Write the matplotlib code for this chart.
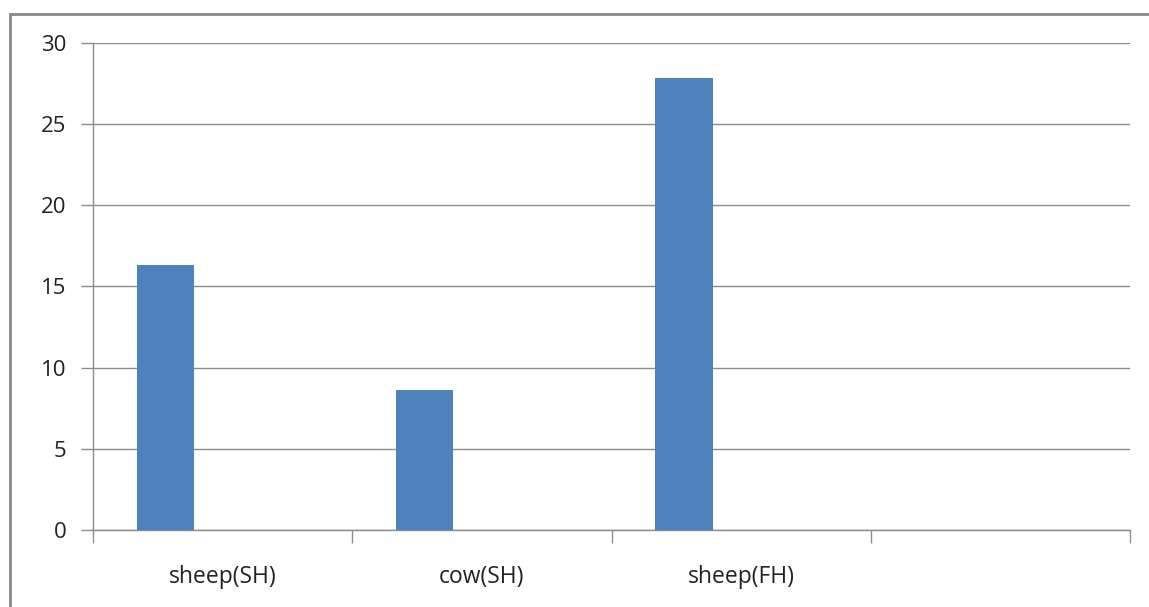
import matplotlib.pyplot as plt
from matplotlib.patches import Rectangle

categories = ['sheep(SH)', 'cow(SH)', 'sheep(FH)', '']
values = [16.35, 8.6, 27.85, None]
yticks = [0, 5, 10, 15, 20, 25, 30]

plt.rcParams['font.family'] = ['Open Sans', 'DejaVu Sans']

fig = plt.figure(figsize=(11.49, 6.07), dpi=100)
ax = fig.add_axes([93/1149, 1 - 530/607, (1130 - 93)/1149, (530 - 43)/607])

gray = '#8c8c8c'
xs = [i for i, v in enumerate(values) if v is not None]
vs = [v for v in values if v is not None]
ax.bar([x - 0.22 for x in xs], vs, width=0.221, color='#4f81bd', zorder=3)

ax.set_xlim(-0.5, len(categories) - 0.5)
ax.set_ylim(0, 30)
ax.set_yticks(yticks)
ax.set_yticklabels([str(t) for t in yticks], fontsize=16, color='#222222')
ax.yaxis.grid(True, color=gray, linewidth=1.0, zorder=0)
ax.tick_params(axis='y', length=9, width=1.0, color=gray, pad=10)

# category boundaries as major ticks, names as minor ticks
ax.set_xticks([i - 0.5 for i in range(len(categories) + 1)])
ax.set_xticklabels([])
ax.set_xticks(range(len(categories)), minor=True)
ax.set_xticklabels(categories, minor=True, fontsize=16.5, color='#222222')
ax.tick_params(axis='x', which='major', length=9, width=1.0, color=gray)
ax.tick_params(axis='x', which='minor', length=0, pad=25)

for s in ['top', 'right']:
    ax.spines[s].set_visible(False)
for s in ['left', 'bottom']:
    ax.spines[s].set_color(gray)
    ax.spines[s].set_linewidth(1.0)

fig.patches.append(Rectangle((9.5/1149, -0.1), 1.2, 1 - 13.5/607 + 0.1,
                             transform=fig.transFigure, fill=False,
                             edgecolor='#888888', linewidth=2))

fig.savefig('out.png', dpi=100)
